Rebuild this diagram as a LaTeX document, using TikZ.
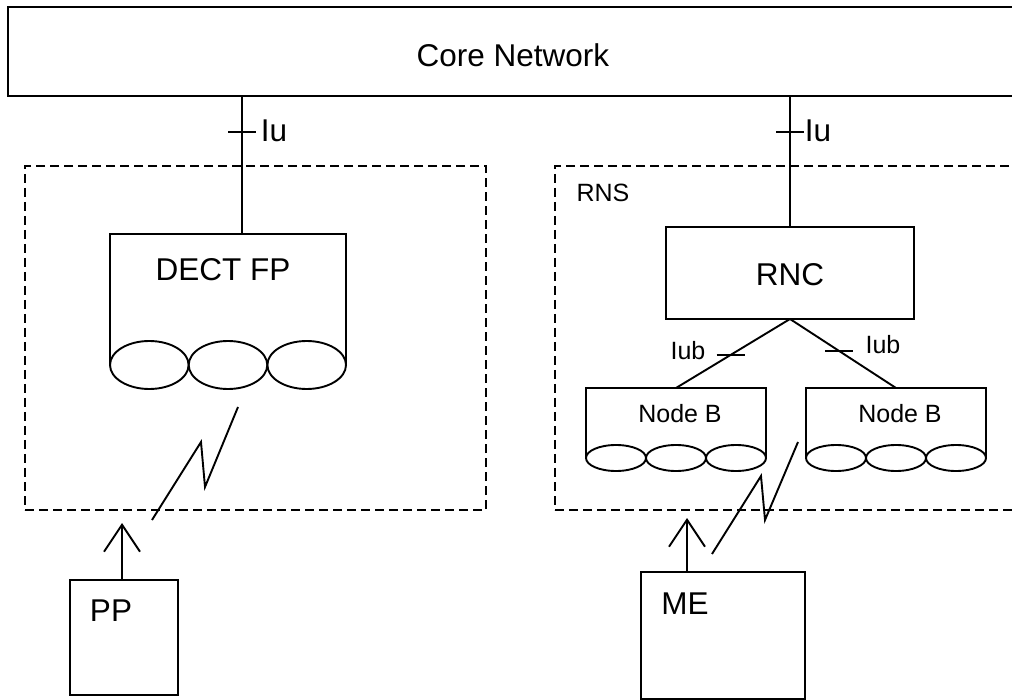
\documentclass[tikz,border=0pt]{standalone}
\usepackage{fontspec}
\setmainfont{Liberation Sans}
\usetikzlibrary{arrows.meta}
\begin{document}
\begin{tikzpicture}[x=1pt,y=-1pt,
  every node/.style={inner sep=0pt, outer sep=0pt},
  box/.style={draw, line width=1.9pt, rectangle},
  ghost/.style={rectangle},
  region/.style={draw, line width=1.9pt, dash pattern=on 9pt off 5pt, rectangle},
  big/.style={font=\fontsize{31.5}{36}\selectfont, anchor=base},
  small/.style={font=\fontsize{25}{30}\selectfont, anchor=base},
  link/.style={line width=1.9pt},
  radio/.style={line width=1.9pt, line join=miter},
  up/.style={line width=1.9pt, -{Straight Barb[length=27pt, width=36pt, line width=1.9pt]}},
  cellline/.style={line width=1.9pt}
]
\useasboundingbox (0,0) rectangle (1012,700);

% Core network
\node[box, minimum width=1022pt, minimum height=89pt] (core) at (519,51.5) {};
\node[big] (corelbl) at (513,67) {Core Network};

% dashed regions
\node[region, minimum width=461pt, minimum height=344pt] (dectarea) at (255.5,338) {};
\node[region, minimum width=475pt, minimum height=344pt] (rns) at (792.5,338) {};
\node[small] (rnslbl) at (603,202) {RNS};

% DECT FP
\node[ghost, minimum width=236pt, minimum height=131pt] (dect) at (228,299.5) {};
\draw[cellline] (dect.south west) -- (dect.north west) -- (dect.north east) -- (dect.south east);
\foreach \cx in {149.3,228,306.7} \draw[cellline] (\cx,365) ellipse [x radius=39.3pt, y radius=24pt];
\node[big] (dectlbl) at (223,281) {DECT FP};

% RNC
\node[box, minimum width=248pt, minimum height=92pt] (rnc) at (790,273) {};
\node[big] (rnclbl) at (790,286) {RNC};

% Node B left
\node[ghost, minimum width=180pt, minimum height=70pt] (nbl) at (676,423) {};
\draw[cellline] (nbl.south west) -- (nbl.north west) -- (nbl.north east) -- (nbl.south east);
\foreach \cx in {616,676,736} \draw[cellline] (\cx,458) ellipse [x radius=30pt, y radius=13pt];
\node[small] (nbllbl) at (680,422) {Node B};

% Node B right
\node[ghost, minimum width=180pt, minimum height=70pt] (nbr) at (896,423) {};
\draw[cellline] (nbr.south west) -- (nbr.north west) -- (nbr.north east) -- (nbr.south east);
\foreach \cx in {836,896,956} \draw[cellline] (\cx,458) ellipse [x radius=30pt, y radius=13pt];
\node[small] (nbrlbl) at (900,422) {Node B};

% PP and ME
\node[box, minimum width=108pt, minimum height=115pt] (pp) at (124,637.5) {};
\node[big] (pplbl) at (111,621) {PP};
\node[box, minimum width=164pt, minimum height=127pt] (me) at (723,635.5) {};
\node[big] (melbl) at (685,614) {ME};

% Iu interfaces
\coordinate (iuL) at (242,0);
\draw[link] (core.south -| iuL) -- (iuL |- dect.north);
\draw[link] (228,132) -- (256,132);
\node[big] (iu1) at (274,142) {Iu};
\draw[link] (core.south -| rnc.north) -- (rnc.north);
\draw[link] ([xshift=-14pt]rnc.north |- 0,132) -- ([xshift=14pt]rnc.north |- 0,132);
\node[big] (iu2) at (818,142) {Iu};

% Iub interfaces
\draw[link] (rnc.south) -- coordinate[pos=0.52] (tb1) (nbl.north);
\draw[link] (rnc.south) -- coordinate[pos=0.464] (tb2) (nbr.north);
\draw[link] ([xshift=-14pt]tb1) -- ([xshift=14pt]tb1);
\draw[link] ([xshift=-14pt]tb2) -- ([xshift=14pt]tb2);
\node[small] (iub1) at (688,360) {Iub};
\node[small] (iub2) at (883,354) {Iub};

% uplink arrows
\coordinate (ppTip) at (122,523);
\draw[up] (pp.north -| ppTip) -- (ppTip);
\coordinate (meTip) at (687,518);
\draw[up] (me.north -| meTip) -- (meTip);

% radio links
\draw[radio] (238,407) -- (205,487) -- (201,442) -- (152,520);
\draw[radio] (798,442) -- (765,520) -- (761,476) -- (712,554);
\end{tikzpicture}
\end{document}
